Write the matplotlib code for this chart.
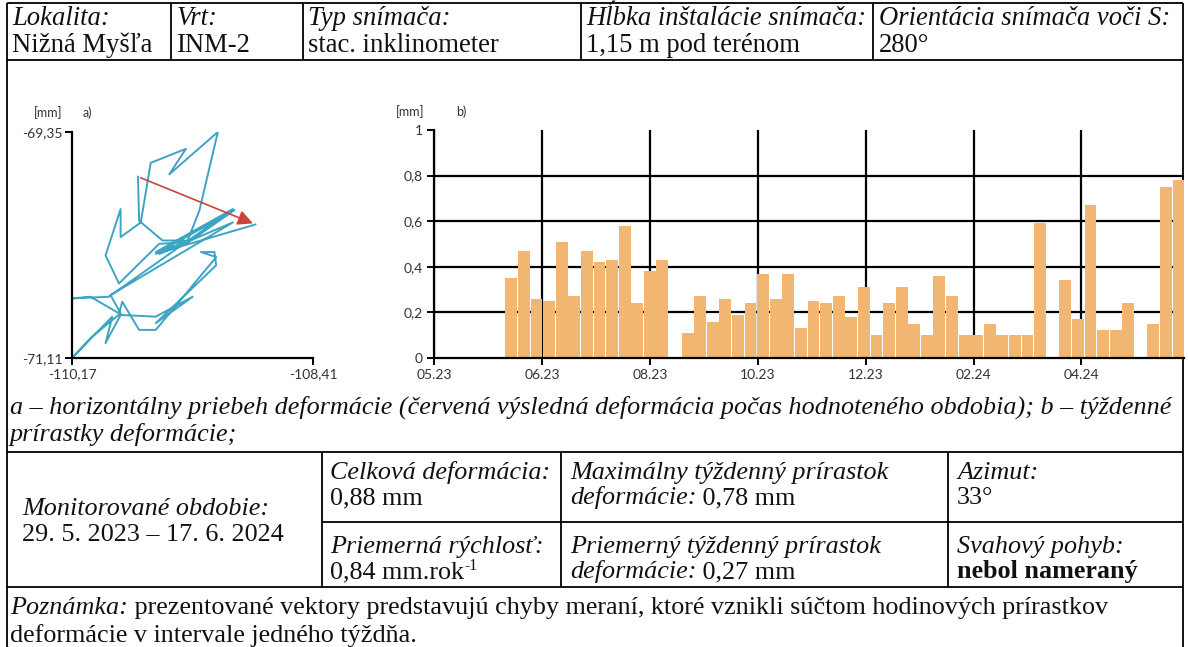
import matplotlib
matplotlib.use("Agg")
import matplotlib.pyplot as plt
import matplotlib.dates as mdates
from datetime import date, timedelta

# ---- data -------------------------------------------------------------
# a) horizontal course of deformation [mm]
x_def = [-109.688, -109.680, -109.509, -109.326, -109.240, -109.105, -109.460, -109.338,
         -109.595, -109.668, -109.815, -109.815, -109.925, -109.827, -109.534, -109.338,
         -109.558, -108.995, -109.901, -110.170, -110.035, -109.827, -109.803, -109.680,
         -109.558, -109.117, -109.228, -109.130, -109.117, -109.558, -109.289, -109.558,
         -109.815, -109.925, -109.876, -110.170, -110.023, -109.815, -109.889, -108.995,
         -109.534, -109.338, -108.983, -109.558, -108.830]
y_def = [-69.698, -70.041, -70.195, -70.195, -69.963, -69.350, -69.680, -69.481,
         -69.590, -70.054, -70.169, -69.950, -70.311, -70.530, -70.221, -70.208,
         -70.285, -69.950, -70.633, -70.646, -70.633, -70.762, -70.672, -70.891,
         -70.891, -70.324, -70.285, -70.285, -70.388, -70.839, -70.633, -70.788,
         -70.775, -70.994, -70.788, -71.110, -70.943, -70.762, -70.620, -70.054,
         -70.298, -70.221, -69.958, -70.298, -70.070]
x_lim_a = [-110.17, -108.41]
y_lim_a = [-71.11, -69.35]

# b) weekly increments of deformation [mm], None = week without value
first_week = date(2023, 6, 13)
weekly_inc = [0.35, 0.47, 0.26, 0.25, 0.51, 0.27, 0.47, 0.42, 0.43, 0.58, 0.24, 0.38, 0.43,
              None,
              0.11, 0.27, 0.16, 0.26, 0.19, 0.24, 0.37, 0.26, 0.37, 0.13, 0.25, 0.24, 0.27,
              0.18, 0.31, 0.10, 0.24, 0.31, 0.15, 0.10, 0.36, 0.27, 0.10, 0.10, 0.15, 0.10,
              0.10, 0.10, 0.59,
              None,
              0.34, 0.17, 0.67, 0.125, 0.125, 0.24,
              None,
              0.15, 0.75, 0.78]
axis_start = date(2023, 5, 1)
axis_end = date(2024, 6, 21)
tick_step_days = 60
y_ticks_b = [0, 0.2, 0.4, 0.6, 0.8, 1]

# texts
header_labels = ["Lokalita:", "Vrt:", "Typ snímača:", "Hĺbka inštalácie snímača:",
                 "Orientácia snímača voči S:"]
header_values = ["Nižná Myšľa", "INM-2", "stac. inklinometer", "1,15 m pod terénom", "280°"]
caption_1 = ("a – horizontálny priebeh deformácie (červená výsledná deformácia počas "
             "hodnoteného obdobia); b – týždenné")
caption_2 = "prírastky deformácie;"

SERIF = "Liberation Serif"
FS = 18.8
FS_HEAD = 19.2
W, H = 1188, 647

fig = plt.figure(figsize=(W / 100, H / 100), dpi=100)
fig.patch.set_facecolor("white")

# overlay in pixel coordinates for the table
ax0 = fig.add_axes([0, 0, 1, 1], zorder=0)
ax0.set_xlim(0, W)
ax0.set_ylim(H, 0)
ax0.axis("off")
renderer = fig.canvas.get_renderer()

LW = 1.3


def hline(y, x0, x1):
    ax0.plot([x0, x1], [y, y], color="black", lw=LW, solid_capstyle="butt")


def vline(x, y0, y1):
    ax0.plot([x, x], [y0, y1], color="black", lw=LW, solid_capstyle="butt")


def put(x, y, parts, size=FS):
    # parts: (text, style) or (text, style, size factor, rise in px)
    for p in parts:
        s, st = p[0], p[1]
        f = p[2] if len(p) > 2 else 1.0
        rise = p[3] if len(p) > 3 else 0
        t = ax0.text(x, y - rise, s, fontsize=size * f, family=SERIF,
                     style="italic" if "i" in st else "normal",
                     weight="bold" if "b" in st else "normal",
                     va="baseline", ha="left", color="#111111")
        x += t.get_window_extent(renderer).width


# header box
L, R = 7, 1183
TOP, HEAD_BOT = 3, 60
hline(TOP, L, R)
hline(HEAD_BOT, L, R)
vline(L, TOP, H)
vline(R, TOP, H)
for cx in [171, 303, 581, 873]:
    vline(cx, TOP, HEAD_BOT)
text_x = [12, 177, 308, 586, 879]
for tx, lab, val in zip(text_x, header_labels, header_values):
    put(tx, 25, [(lab, "i")], size=FS_HEAD)
    put(tx, 52, [(val, "")], size=FS_HEAD)

# caption
put(10, 414, [(caption_1, "i")])
put(10, 441, [(caption_2, "i")])

# stats table
hline(452, L, R)
hline(522, 322, R)
hline(587, L, R)
for cx in [322, 561, 948]:
    vline(cx, 452, 587)
put(22, 515, [("Monitorované obdobie:", "i")])
put(22, 541, [("29. 5. 2023 – 17. 6. 2024", "")])
put(330, 479, [("Celková deformácia:", "i")])
put(330, 504, [("0,88 mm", "")])
put(330, 553, [("Priemerná rýchlosť:", "i")])
put(330, 578, [("0,84 mm.rok", ""), ("-1", "", 0.6, 8)])
put(570, 479, [("Maximálny týždenný prírastok", "i")])
put(570, 504, [("deformácie:", "i"), (" 0,78 mm", "")])
put(570, 553, [("Priemerný týždenný prírastok", "i")])
put(570, 578, [("deformácie:", "i"), (" 0,27 mm", "")])
put(957, 479, [("Azimut:", "i")])
put(957, 504, [("33°", "")])
put(957, 553, [("Svahový pohyb:", "i")])
put(957, 578, [("nebol nameraný", "b")])
put(10, 614, [("Poznámka:", "i"),
              (" prezentované vektory predstavujú chyby meraní, ktoré vznikli súčtom "
               "hodinových prírastkov", "")])
put(10, 642, [("deformácie v intervale jedného týždňa.", "")])

CHART_FONT = "Lato"
TXT = "#333333"


def fig_rect(x0, y0, x1, y1):
    return [x0 / W, 1 - y1 / H, (x1 - x0) / W, (y1 - y0) / H]


def comma(v):
    return f"{v:.2f}".replace(".", ",")


# ---- a) deformation course -------------------------------------------
axa = fig.add_axes(fig_rect(72, 132, 313, 358), zorder=2)
axa.patch.set_alpha(0)
axa.plot(x_def, y_def, color="#3DA5C3", lw=1.4, zorder=2)
axa.annotate("", xy=(x_def[-1], y_def[-1]), xytext=(x_def[0], y_def[0]),
             arrowprops=dict(arrowstyle="-|>,head_length=0.9,head_width=0.45",
                             color="#C9453A", lw=1.2), zorder=3)
axa.set_xlim(x_lim_a)
axa.set_ylim(y_lim_a)
axa.set_xticks(x_lim_a)
axa.set_yticks(y_lim_a)
axa.set_xticklabels([comma(v) for v in x_lim_a])
axa.set_yticklabels([comma(v) for v in y_lim_a])
for s in ["top", "right"]:
    axa.spines[s].set_visible(False)
for s in ["left", "bottom"]:
    axa.spines[s].set_linewidth(1.6)
    axa.spines[s].set_color("black")
axa.tick_params(direction="out", length=5, width=1.4, pad=2, labelsize=10, labelcolor=TXT)
for lab in axa.get_xticklabels() + axa.get_yticklabels():
    lab.set_family(CHART_FONT)
axa.text(-0.10, 1.085, "[mm]", transform=axa.transAxes, fontsize=9, family=CHART_FONT,
         color=TXT, ha="center", va="center")
axa.text(0.062, 1.085, "a)", transform=axa.transAxes, fontsize=9, family=CHART_FONT,
         color=TXT, ha="center", va="center")

# ---- b) weekly increments ---------------------------------------------
axb = fig.add_axes(fig_rect(434, 130, 1184, 358), zorder=2)
axb.patch.set_alpha(0)
weeks = [first_week + timedelta(weeks=i) for i in range(len(weekly_inc))]
bar_dates = [d for d, v in zip(weeks, weekly_inc) if v is not None]
bar_vals = [v for v in weekly_inc if v is not None]
axb.bar(bar_dates, bar_vals, width=6.6, color="#F0B672", zorder=2)
axb.set_xlim(axis_start, axis_end)
axb.set_ylim(0, 1)
x_ticks = []
d = axis_start
while d <= axis_end:
    x_ticks.append(d)
    d += timedelta(days=tick_step_days)
axb.set_xticks(x_ticks)
axb.xaxis.set_major_formatter(mdates.DateFormatter("%m.%y"))
axb.set_yticks(y_ticks_b)
axb.set_yticklabels(["0" if v == 0 else ("1" if v == 1 else f"{v:.1f}".replace(".", ","))
                     for v in y_ticks_b])
axb.set_axisbelow(True)
axb.grid(True, color="black", lw=1.6)
axb.get_ygridlines()[-1].set_visible(False)
axb.get_ygridlines()[0].set_visible(False)
for s in ["top", "right"]:
    axb.spines[s].set_visible(False)
for s in ["left", "bottom"]:
    axb.spines[s].set_linewidth(1.6)
    axb.spines[s].set_color("black")
axb.tick_params(direction="out", length=5, width=1.4, pad=3, labelsize=10, labelcolor=TXT)
for lab in axb.get_xticklabels() + axb.get_yticklabels():
    lab.set_family(CHART_FONT)
axb.text(-0.032, 1.08, "[mm]", transform=axb.transAxes, fontsize=9, family=CHART_FONT,
         color=TXT, ha="center", va="center")
axb.text(0.037, 1.08, "b)", transform=axb.transAxes, fontsize=9, family=CHART_FONT,
         color=TXT, ha="center", va="center")

fig.savefig("out.png", dpi=100, facecolor="white")
